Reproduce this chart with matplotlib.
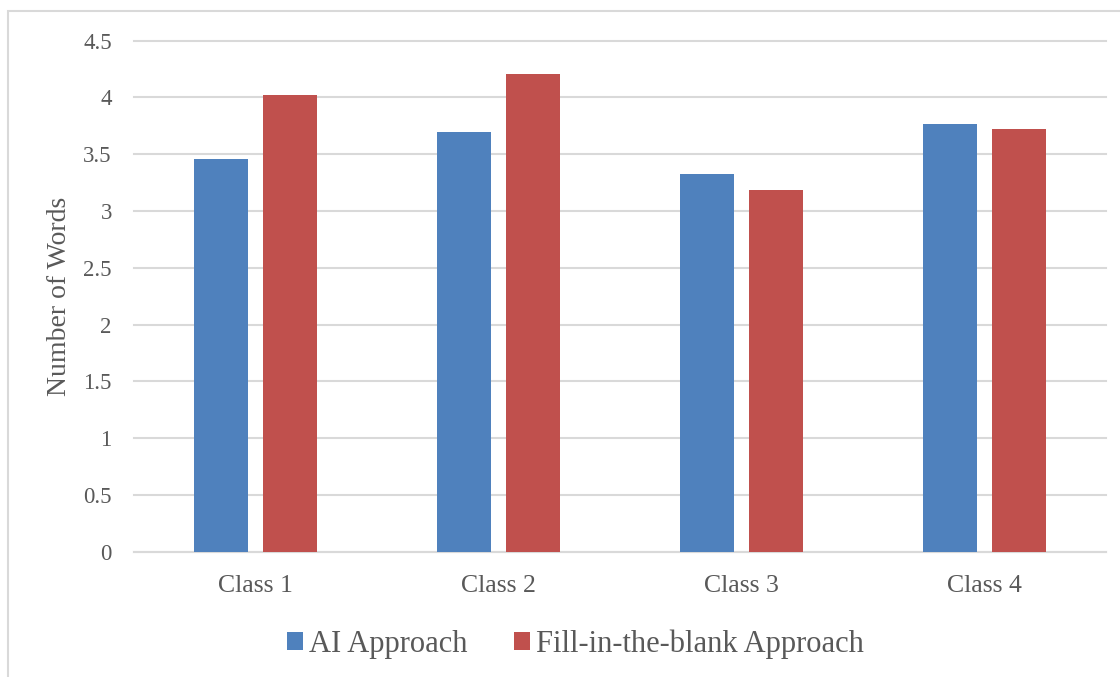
import numpy as np
import matplotlib
matplotlib.use('Agg')
import matplotlib.pyplot as plt
from matplotlib.patches import Rectangle

# data
classes = ['Class 1', 'Class 2', 'Class 3', 'Class 4']
ai_approach = [3.455, 3.70, 3.325, 3.77]
fill_blank = [4.02, 4.205, 3.185, 3.725]
series_names = ['AI Approach', 'Fill-in-the-blank Approach']
y_ticks = [0, 0.5, 1, 1.5, 2, 2.5, 3, 3.5, 4, 4.5]
y_tick_labels = ['0', '0.5', '1', '1.5', '2', '2.5', '3', '3.5', '4', '4.5']

plt.rcParams['font.family'] = ['Liberation Serif', 'DejaVu Serif']
text_color = '#595959'

W, H = 1120, 677
fig = plt.figure(figsize=(W / 100, H / 100), dpi=100)
ax = fig.add_axes([134 / W, 1 - 551.7 / H, (1106 - 134) / W, (551.7 - 40.7) / H])

x = np.arange(len(classes))
width = 0.222
ax.bar(x - 0.142, ai_approach, width, color='#4F81BD', label=series_names[0], zorder=3)
ax.bar(x + 0.142, fill_blank, width, color='#C0504D', label=series_names[1], zorder=3)

ax.set_xlim(-0.5, len(classes) - 0.5)
ax.set_ylim(0, 4.5)
ax.set_yticks(y_ticks)
ax.set_yticklabels(y_tick_labels)
ax.set_xticks(x)
ax.set_xticklabels(classes)
ax.tick_params(axis='both', length=0, colors=text_color)
ax.tick_params(axis='y', pad=16, labelsize=16.5)
ax.tick_params(axis='x', pad=17, labelsize=18.5)
ax.grid(axis='y', color='#D9D9D9', linewidth=1.5, zorder=0)
for line in ax.get_ygridlines():
    line.set_clip_on(False)
for s in ['top', 'right', 'left']:
    ax.spines[s].set_visible(False)
ax.spines['bottom'].set_color('#D9D9D9')
ax.spines['bottom'].set_linewidth(1.5)
ax.set_ylabel('Number of Words', fontsize=20, color=text_color, labelpad=8)

leg = fig.legend(loc='center', bbox_to_anchor=(575.5 / W, 1 - 644 / H), ncol=2, frameon=False,
                 fontsize=22, handlelength=0.52, handleheight=0.52, handletextpad=0.2,
                 columnspacing=1.54, borderpad=0)
for t in leg.get_texts():
    t.set_color(text_color)

# outer chart frame (cut off at the right and bottom)
fig.patches.append(Rectangle((8 / W, -0.1), 1.2, 1 - 11 / H + 0.1, transform=fig.transFigure,
                             fill=False, edgecolor='#D9D9D9', linewidth=1.5))

fig.savefig('out.png', dpi=100)
